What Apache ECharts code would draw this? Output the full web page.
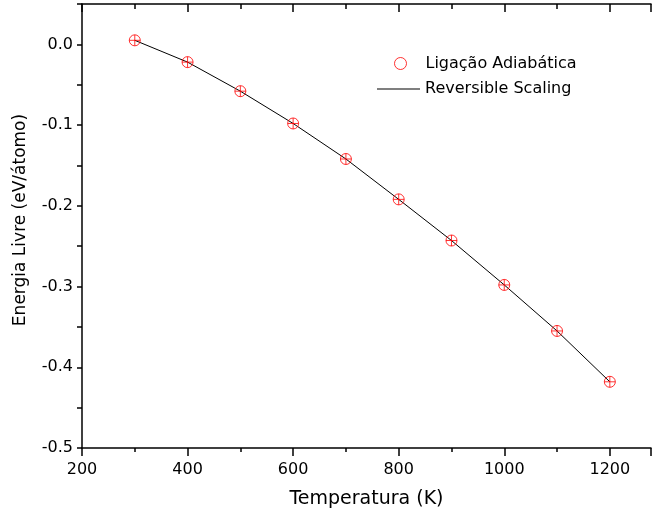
<!DOCTYPE html>
<html><head><meta charset="utf-8">
<script src="https://cdn.jsdelivr.net/npm/echarts@6/dist/echarts.min.js"></script>
<style>html,body{margin:0;padding:0;background:#fff}#c{width:654px;height:518px}</style>
</head><body><div id="c"></div>
<script>
const temperatures = [300, 400, 500, 600, 700, 800, 900, 1000, 1100, 1200];
const adiabatica = [0.005, -0.022, -0.058, -0.098, -0.142, -0.192, -0.243, -0.298, -0.355, -0.418];
const reversible = [0.005, -0.022, -0.058, -0.098, -0.142, -0.192, -0.243, -0.298, -0.355, -0.418];
const seriesNames = ['Ligação Adiabática', 'Reversible Scaling'];

const font = 'DejaVu Sans, sans-serif';
const chart = echarts.init(document.getElementById('c'));
const marker = 'path://M0,-10A10,10 0 1 1 0,10A10,10 0 1 1 0,-10ZM-10,0L10,0M0,-10L0,10';
chart.setOption({
  animation: false,
  backgroundColor: '#fff',
  grid: {left: 82, top: 4, right: 0, bottom: 70, containLabel: false},
  legend: [
    {orient: 'vertical', left: 392, top: 55, padding: 0, itemWidth: 12, itemHeight: 12, itemGap: 12,
     textStyle: {fontFamily: font, fontSize: 16, color: '#000', padding: [0, 0, 0, 14]},
     data: [{name: seriesNames[0], icon: 'circle', itemStyle: {color: 'none', borderColor: '#ff0000', borderWidth: 1}}]},
    {orient: 'vertical', left: 377, top: 81, padding: 0, itemWidth: 43, itemHeight: 1, itemGap: 0,
     textStyle: {fontFamily: font, fontSize: 16, color: '#000', padding: [0, 0, 0, 0]},
     data: [{name: seriesNames[1], icon: 'rect', itemStyle: {color: '#000', borderWidth: 0}}]}
  ],
  xAxis: [{
    type: 'value', min: 200, max: 1278, interval: 200, position: 'bottom',
    name: 'Temperatura (K)', nameLocation: 'middle', nameGap: 42,
    nameTextStyle: {fontFamily: font, fontSize: 19, color: '#000'},
    axisLine: {show: true, onZero: false, lineStyle: {color: '#000', width: 1.5}},
    axisTick: {show: true, inside: false, length: 8, lineStyle: {color: '#000', width: 1.5}},
    minorTick: {show: true, splitNumber: 2, length: 4, lineStyle: {color: '#000', width: 1.5}},
    axisLabel: {fontFamily: font, fontSize: 16, color: '#000', margin: 14,
      formatter: v => (v > 1200 ? '' : String(v))},
    splitLine: {show: false}
  }, {
    type: 'value', min: 200, max: 1278, interval: 200, position: 'top',
    axisLine: {show: true, onZero: false, lineStyle: {color: '#000', width: 1.5}},
    axisTick: {show: true, inside: true, length: 8, lineStyle: {color: '#000', width: 1.5}},
    minorTick: {show: true, splitNumber: 2, length: 5, lineStyle: {color: '#000', width: 1.5}},
    axisLabel: {show: false}, splitLine: {show: false}
  }],
  yAxis: {
    type: 'value', min: -0.5, max: 0.05, interval: 0.1,
    name: 'Energia Livre (eV/átomo)', nameLocation: 'middle', nameGap: 53,
    nameTextStyle: {fontFamily: font, fontSize: 17, color: '#000', padding: [0, 0, 0, 12]},
    axisLine: {show: true, onZero: false, lineStyle: {color: '#000', width: 1.5}},
    axisTick: {show: true, inside: false, length: 5, lineStyle: {color: '#000', width: 1.5}},
    minorTick: {show: true, splitNumber: 2, length: 5, lineStyle: {color: '#000', width: 1.5}},
    axisLabel: {fontFamily: font, fontSize: 16, color: '#000', margin: 9,
      formatter: v => (v > 0.01 ? '' : v.toFixed(1))},
    splitLine: {show: false}
  },
  series: [{
    name: seriesNames[1], type: 'line', smooth: false, showSymbol: false, symbol: 'none',
    lineStyle: {color: '#000', width: 1}, itemStyle: {color: '#000'},
    data: temperatures.map((t, i) => [t, reversible[i]]), z: 2
  }, {
    name: seriesNames[0], type: 'scatter', symbol: marker, symbolSize: 11,
    itemStyle: {color: 'none', borderColor: '#ff0000', borderWidth: 1},
    data: temperatures.map((t, i) => [t, adiabatica[i]]), z: 3
  }]
});
</script></body></html>
